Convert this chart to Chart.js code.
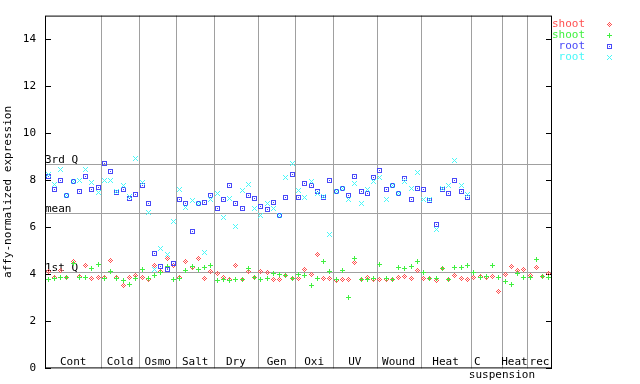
<!DOCTYPE html>
<html>
<head>
<meta charset="utf-8">
<script src="https://cdn.jsdelivr.net/npm/chart.js@4.4.1/dist/chart.umd.min.js"></script>
<style>
  html, body { margin: 0; padding: 0; background: #fff; }
  #wrap { width: 640px; height: 384px; position: relative; }
</style>
</head>
<body>
<div id="wrap"><canvas id="chart"></canvas></div>
<script>
// experiment groups along the x axis, and how many samples each one holds
const groupNames = ["Cont", "Cold", "Osmo", "Salt", "Dry", "Gen", "Oxi", "UV", "Wound", "Heat", "C", "Heat", "rec"];
const groupSubNames = ["", "", "", "", "", "", "", "", "", "", "suspension", "", ""];
const groupSizes = [9, 6, 6, 6, 7, 6, 6, 7, 7, 8, 5, 4, 4];

const yTickValues = [0, 2, 4, 6, 8, 10, 12, 14];

const refNames = ["3rd Q", "mean", "1st Q"];
const refValues = [8.68, 6.62, 4.08];

const seriesNames = ["shoot", "shoot", "root", "root"];

const shootRed = [
  4.13, 3.85, 4.16, 3.88, 4.55, 3.92, 4.37, 3.84, 3.88,
  3.85, 4.60, 3.85, 3.54, 3.88, 3.95,
  3.85, 3.80, 4.36, 4.13, 4.67, 4.39,
  3.88, 4.54, 4.30, 4.68, 3.82, 4.13,
  4.05, 3.88, 3.80, 4.37, 3.80, 4.13, 3.88,
  4.13, 4.09, 3.80, 3.80, 3.95, 3.82,
  3.82, 4.22, 3.99, 4.85, 3.84, 3.84,
  3.75, 3.80, 3.80, 4.50, 3.80, 3.88, 3.80,
  3.80, 3.80, 3.80, 3.88, 3.92, 3.84, 4.17,
  3.84, 3.84, 3.74, 4.26, 3.80, 3.95, 3.84, 3.80,
  3.88, 3.92, 3.88, 3.92, 3.27,
  3.99, 4.34, 4.17, 4.22,
  3.96, 4.30, 3.92, 4.05
];

const shootGreen = [
  3.80, 3.82, 3.88, 3.88, 4.44, 3.88, 3.88, 4.26, 4.43,
  3.84, 4.13, 3.84, 3.75, 3.57, 3.84,
  4.22, 3.84, 3.96, 4.08, 4.35, 3.78,
  3.84, 4.17, 4.33, 4.22, 4.30, 4.37,
  3.74, 3.80, 3.75, 3.80, 3.80, 4.26, 3.88,
  3.80, 3.84, 4.05, 4.01, 3.96, 3.82,
  4.01, 3.96, 3.53, 3.84, 4.55, 4.13,
  3.80, 4.17, 3.03, 4.68, 3.80, 3.80, 3.84,
  4.43, 3.84, 3.80, 4.29, 4.26, 4.33, 4.55,
  4.08, 3.84, 3.84, 4.26, 3.80, 4.30, 4.30, 4.39,
  4.09, 3.88, 3.92, 4.39, 3.88,
  3.71, 3.58, 4.05, 3.88,
  3.88, 4.64, 3.92, 3.88
];

const rootBlue = [
  8.14, 7.59, 8.00, 7.33, 7.95, 7.54, 8.18, 7.62, 7.71,
  8.72, 8.38, 7.47, 7.59, 7.24, 7.38,
  7.78, 7.00, 4.88, 4.33, 4.22, 4.46,
  7.20, 7.03, 5.81, 7.03, 7.07, 7.33,
  6.78, 7.16, 7.79, 7.03, 6.78, 7.37, 7.24,
  6.90, 6.74, 7.07, 6.50, 7.28, 8.26,
  7.28, 7.88, 7.79, 7.54, 7.28, 8.00,
  7.54, 7.66, 7.33, 8.17, 7.54, 7.45, 8.13,
  8.42, 7.62, 7.79, 7.45, 8.09, 7.16, 7.66,
  7.62, 7.12, 6.10, 7.62, 7.45, 8.00, 7.54, 7.28,
  null, null, null, null, null,
  null, null, null, null,
  null, null, null, null
];

const rootCyan = [
  8.26, 7.80, 8.44, 7.35, 7.95, 7.97, 8.47, 7.92, 7.50,
  7.97, 7.97, 7.52, 7.79, 7.31, 8.92,
  7.90, 6.62, 4.22, 5.09, 4.86, 6.24,
  7.62, 6.82, 7.12, 7.03, 4.92, 7.20,
  7.45, 6.40, 7.24, 6.02, 7.58, 7.83, 6.78,
  6.48, 6.99, 6.78, 6.50, 8.13, 8.72,
  7.58, 7.28, 7.96, 7.45, 7.30, 5.68,
  7.54, 7.66, 7.20, 7.88, 7.03, 7.62, 7.96,
  8.13, 7.20, 7.79, 7.45, 7.96, 7.66, 8.34,
  7.20, 7.20, 5.92, 7.66, 7.79, 8.85, 7.79, 7.41,
  null, null, null, null, null,
  null, null, null, null,
  null, null, null, null
];

// one label per sample, e.g. "Cold 3"
const sampleLabels = [];
groupNames.forEach((g, gi) => {
  for (let k = 0; k < groupSizes[gi]; k++) sampleLabels.push(g + " " + (k + 1));
});

const RED = "#ff5050";
const GREEN = "#40f040";
const BLUE = "#4848f8";
const CYAN = "#48f8f8";
const GRID = "#a0a0a0";
const FONT = "DejaVu Sans Mono";

// small pixel markers like the gnuplot ones
function makeMarker(rows, color) {
  const c = document.createElement("canvas");
  c.width = rows[0].length;
  c.height = rows.length;
  const g = c.getContext("2d");
  g.fillStyle = color;
  rows.forEach((r, y) => {
    for (let x = 0; x < r.length; x++) if (r[x] === "X") g.fillRect(x, y, 1, 1);
  });
  return c;
}

const diamondPt = makeMarker(["..X..", ".X.X.", "X.X.X", ".X.X.", "..X.."], RED);
const plusPt = makeMarker(["..X..", "..X..", "XXXXX", "..X..", "..X.."], GREEN);
const boxPt = makeMarker(["XXXXX", "X...X", "X.X.X", "X...X", "XXXXX"], BLUE);
const crossPt = makeMarker(["X...X", ".X.X.", "..X..", ".X.X.", "X...X"], CYAN);

const markers = [diamondPt, plusPt, boxPt, crossPt];
const colors = [RED, GREEN, BLUE, CYAN];

const backdrop = {
  id: "backdrop",
  beforeDatasetsDraw(chart) {
    const { ctx, chartArea: a, scales } = chart;
    const x = scales.x, y = scales.y;
    ctx.save();
    ctx.lineWidth = 1;
    ctx.strokeStyle = GRID;

    // group separators
    let idx = 0;
    groupSizes.forEach((n, gi) => {
      idx += n;
      if (gi < groupSizes.length - 1) {
        const px = Math.round(x.getPixelForValue(idx - 0.5)) + 0.5;
        ctx.beginPath();
        ctx.moveTo(px, a.top);
        ctx.lineTo(px, a.bottom);
        ctx.stroke();
      }
    });

    // quartile / mean lines
    ctx.font = "11px " + FONT;
    ctx.fillStyle = "#000";
    ctx.textAlign = "left";
    ctx.textBaseline = "alphabetic";
    refValues.forEach((v, i) => {
      const py = Math.round(y.getPixelForValue(v)) + 0.5;
      ctx.beginPath();
      ctx.moveTo(a.left, py);
      ctx.lineTo(a.right, py);
      ctx.stroke();
      ctx.fillText(refNames[i], a.left, py - 1.5);
    });

    // frame and inward ticks
    ctx.strokeStyle = "#000";
    ctx.strokeRect(a.left + 0.5, a.top + 0.5, a.right - a.left - 1, a.bottom - a.top - 1);
    yTickValues.forEach(v => {
      const py = Math.round(y.getPixelForValue(v)) + 0.5;
      ctx.beginPath();
      ctx.moveTo(a.left, py);
      ctx.lineTo(a.left + 6, py);
      ctx.moveTo(a.right - 6, py);
      ctx.lineTo(a.right, py);
      ctx.stroke();
    });

    // group names along the bottom
    ctx.textAlign = "center";
    let start = 0;
    groupSizes.forEach((n, gi) => {
      const left = x.getPixelForValue(start - 0.5);
      const right = x.getPixelForValue(start + n - 0.5);
      const nudge = groupSubNames[gi] ? -9 : 0;
      ctx.fillText(groupNames[gi], (left + right) / 2 + nudge, a.bottom - 3);
      if (groupSubNames[gi]) ctx.fillText(groupSubNames[gi], right, a.bottom + 10);
      start += n;
    });
    ctx.restore();
    ctx.imageSmoothingEnabled = false;
  },
  afterDraw(chart) {
    const { ctx } = chart;
    ctx.save();
    ctx.font = "11px " + FONT;
    ctx.textAlign = "right";
    ctx.textBaseline = "middle";
    ctx.imageSmoothingEnabled = false;
    seriesNames.forEach((name, i) => {
      const yy = 24 + i * 11;
      ctx.fillStyle = colors[i];
      ctx.fillText(name, 585, yy);
      ctx.drawImage(markers[i], 607, yy - 2);
    });
    ctx.restore();
  }
};

function series(values, i, order) {
  return {
    label: seriesNames[i],
    data: values,
    showLine: false,
    pointStyle: markers[i],
    pointRadius: 3,
    pointHoverRadius: 3,
    borderColor: colors[i],
    backgroundColor: colors[i],
    order: order
  };
}

new Chart(document.getElementById("chart"), {
  type: "line",
  data: {
    labels: sampleLabels,
    datasets: [
      series(shootRed, 0, 3),
      series(shootGreen, 1, 2),
      series(rootBlue, 2, 1),
      series(rootCyan, 3, 0)
    ]
  },
  options: {
    responsive: true,
    maintainAspectRatio: false,
    devicePixelRatio: 1,
    animation: false,
    events: [],
    layout: { padding: { top: 13, right: 88, bottom: 15, left: 0 } },
    plugins: {
      legend: { display: false },
      tooltip: { enabled: false }
    },
    scales: {
      x: {
        type: "category",
        offset: true,
        display: false
      },
      y: {
        min: 0,
        max: 15,
        afterFit: s => { s.width = 45; },
        afterBuildTicks: s => { s.ticks = yTickValues.map(v => ({ value: v })); },
        grid: { display: false, drawTicks: false },
        border: { display: false },
        ticks: {
          color: "#000",
          padding: 9,
          font: { family: FONT, size: 11 }
        },
        title: {
          display: true,
          text: "affy-normalized expression",
          color: "#000",
          padding: { top: 2, bottom: 0 },
          font: { family: FONT, size: 11 }
        }
      }
    }
  },
  plugins: [backdrop]
});
</script>
</body>
</html>
